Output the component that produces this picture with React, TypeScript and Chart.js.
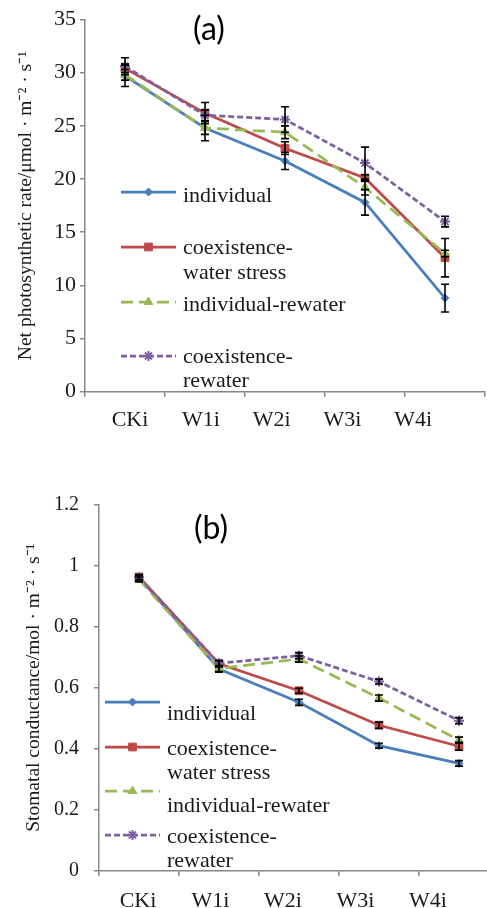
import React, { useEffect, useRef } from 'react';
import { Chart, registerables } from 'chart.js';
import { drawPoint } from 'chart.js/helpers';

Chart.register(...registerables);

// ---------- data ----------
const categories = ['CKi', 'W1i', 'W2i', 'W3i', 'W4i'];
const seriesNames = ['individual', 'coexistence-water stress', 'individual-rewater', 'coexistence-rewater'];
const legendLines = [['individual'], ['coexistence-', 'water stress'], ['individual-rewater'], ['coexistence-', 'rewater']];

// (a) Net photosynthetic rate
const pnIndividual = [29.7, 24.8, 21.7, 17.8, 8.8];
const pnCoexStress = [30.4, 26.2, 22.9, 20.1, 12.6];
const pnIndivRewater = [29.8, 24.8, 24.4, 19.2, 13.0];
const pnCoexRewater = [30.6, 26.0, 25.6, 21.5, 16.0];
const pnErrIndividual = [1.0, 1.2, 0.8, 1.2, 1.3];
const pnErrCoexStress = [0.4, 1.0, 0.6, 0.3, 1.8];
const pnErrIndivRewater = [0.5, 0.6, 0.6, 0.7, 0.3];
const pnErrCoexRewater = [0.8, 0.5, 1.2, 1.5, 0.5];

// (b) Stomatal conductance
const gsIndividual = [0.962, 0.661, 0.552, 0.41, 0.352];
const gsCoexStress = [0.963, 0.678, 0.59, 0.477, 0.408];
const gsIndivRewater = [0.955, 0.663, 0.694, 0.566, 0.428];
const gsCoexRewater = [0.962, 0.68, 0.705, 0.62, 0.492];
const gsErrIndividual = [0.008, 0.01, 0.01, 0.008, 0.009];
const gsErrCoexStress = [0.008, 0.01, 0.008, 0.01, 0.013];
const gsErrIndivRewater = [0.008, 0.01, 0.01, 0.01, 0.01];
const gsErrCoexRewater = [0.008, 0.01, 0.01, 0.008, 0.01];

// ---------- styles ----------
const SERIF = '"Liberation Serif", "Times New Roman", serif';
const TEXT = '#1a1a1a';
const AXIS = '#878787';
const styles = [
  { color: '#4A7EBB', pointStyle: 'rectRot', radius: 4, dash: [] as number[], pbw: 1 },
  { color: '#BE4B48', pointStyle: 'rect', radius: 5.5, dash: [] as number[], pbw: 1 },
  { color: '#98B954', pointStyle: 'triangle', radius: 5, dash: [12, 6], pbw: 1 },
  { color: '#7D60A0', pointStyle: 'star', radius: 5, dash: [6, 3], pbw: 2 },
];

// ---------- plugins ----------
const errorBarPlugin = {
  id: 'errorBars',
  afterDatasetsDraw(chart: any, _a: any, opts: any) {
    const ctx = chart.ctx;
    const ys = chart.scales.y;
    ctx.save();
    ctx.strokeStyle = opts.color;
    ctx.lineWidth = opts.width;
    ctx.setLineDash([]);
    chart.data.datasets.forEach((ds: any, i: number) => {
      const meta = chart.getDatasetMeta(i);
      (ds.errors || []).forEach((e: number, j: number) => {
        const pt = meta.data[j];
        if (!pt) return;
        const v = ds.data[j];
        const x = pt.x;
        const t = ys.getPixelForValue(v + e);
        const b = ys.getPixelForValue(v - e);
        ctx.beginPath();
        ctx.moveTo(x, t);
        ctx.lineTo(x, b);
        ctx.moveTo(x - opts.cap, t);
        ctx.lineTo(x + opts.cap, t);
        ctx.moveTo(x - opts.cap, b);
        ctx.lineTo(x + opts.cap, b);
        ctx.stroke();
      });
    });
    ctx.restore();
  },
};

const insideLegendPlugin = {
  id: 'insideLegend',
  afterDraw(chart: any, _a: any, opts: any) {
    const ctx = chart.ctx;
    ctx.save();
    chart.data.datasets.forEach((ds: any, i: number) => {
      const item = opts.items[i];
      const st = styles[i];
      ctx.strokeStyle = st.color;
      ctx.lineWidth = 2.75;
      ctx.setLineDash(st.dash);
      ctx.beginPath();
      ctx.moveTo(opts.x0, item.sampleY);
      ctx.lineTo(opts.x1, item.sampleY);
      ctx.stroke();
      ctx.setLineDash([]);
      ctx.fillStyle = st.color;
      ctx.lineWidth = st.pbw;
      drawPoint(ctx, { pointStyle: st.pointStyle, radius: st.radius, rotation: 0, borderWidth: st.pbw } as any,
        (opts.x0 + opts.x1) / 2, item.sampleY);
      ctx.fillStyle = TEXT;
      ctx.font = opts.font;
      ctx.textAlign = 'left';
      ctx.textBaseline = 'alphabetic';
      legendLines[i].forEach((line, k) => {
        ctx.fillText(line, opts.textX, item.baselines[k]);
      });
    });
    ctx.restore();
  },
};

const panelLabelPlugin = {
  id: 'panelLabel',
  afterDraw(chart: any, _a: any, opts: any) {
    const ctx = chart.ctx;
    ctx.save();
    ctx.fillStyle = '#000';
    ctx.font = opts.font;
    ctx.textAlign = 'center';
    ctx.textBaseline = 'middle';
    ctx.fillText(opts.text, opts.x, opts.y);
    ctx.restore();
  },
};

type PanelCfg = {
  series: number[][];
  errors: number[][];
  yMax: number;
  yStep: number;
  yTitle: string;
  yWidth: number;
  yTitlePad: number;
  yTickPad: number;
  yTickFont: number;
  padTop: number;
  padRight: number;
  labelAxisHeight: number;
  labelPad: number;
  labelMin: number;
  labelMax: number;
  panel: { text: string; x: number; y: number };
  legend: { x0: number; x1: number; textX: number; items: { sampleY: number; baselines: number[] }[] };
};

function makeConfig(c: PanelCfg): any {
  return {
    type: 'line',
    data: {
      labels: categories,
      datasets: c.series.map((vals, i) => ({
        label: seriesNames[i],
        data: vals,
        errors: c.errors[i],
        xAxisID: 'x',
        yAxisID: 'y',
        borderColor: styles[i].color,
        backgroundColor: styles[i].color,
        borderWidth: 2.75,
        borderDash: styles[i].dash,
        pointStyle: styles[i].pointStyle,
        pointRadius: styles[i].radius,
        pointBackgroundColor: styles[i].color,
        pointBorderColor: styles[i].color,
        pointBorderWidth: styles[i].pbw,
        tension: 0,
        fill: false,
        clip: false,
        order: 3 - i,
      })),
    },
    options: {
      responsive: false,
      animation: false,
      events: [],
      layout: { autoPadding: false, padding: { top: c.padTop, right: c.padRight, left: 0, bottom: 0 } },
      plugins: {
        legend: { display: false },
        tooltip: { enabled: false },
        errorBars: { color: '#000', width: 1.6, cap: 4 },
        insideLegend: { ...c.legend, font: `22px ${SERIF}` },
        panelLabel: { ...c.panel, font: '32px Lato, "Open Sans", sans-serif' },
      },
      scales: {
        x: {
          type: 'category',
          position: 'bottom',
          offset: true,
          weight: 0,
          grid: { offset: true, drawOnChartArea: false, tickLength: 5, color: AXIS, lineWidth: 1.5 },
          border: { color: AXIS, width: 1.5 },
          ticks: { display: false },
          afterFit: (s: any) => { s.height = 6; s.paddingLeft = 0; s.paddingRight = 0; },
        },
        xl: {
          type: 'linear',
          position: 'bottom',
          weight: 1,
          bounds: 'data',
          min: c.labelMin,
          max: c.labelMax,
          grid: { display: false, drawTicks: false },
          border: { display: false },
          afterBuildTicks: (s: any) => { s.ticks = categories.map((_, i) => ({ value: i })); },
          ticks: {
            autoSkip: false,
            maxRotation: 0,
            padding: c.labelPad,
            color: TEXT,
            font: { family: SERIF, size: 22 },
            callback: (v: any) => categories[Math.round(v)] ?? '',
          },
          afterFit: (s: any) => { s.height = c.labelAxisHeight; s.paddingLeft = 0; s.paddingRight = 0; },
        },
        y: {
          type: 'linear',
          min: 0,
          max: c.yMax,
          grid: { drawOnChartArea: false, tickLength: 5, color: AXIS, lineWidth: 1.5 },
          border: { color: AXIS, width: 1.5 },
          ticks: {
            stepSize: c.yStep,
            padding: c.yTickPad,
            color: TEXT,
            font: { family: SERIF, size: c.yTickFont },
            callback: (v: any) => String(Math.round(v * 10) / 10),
          },
          title: {
            display: true,
            text: c.yTitle,
            color: TEXT,
            font: { family: SERIF, size: 19.5 },
            padding: { top: c.yTitlePad, bottom: 0 },
          },
          afterFit: (s: any) => { s.width = c.yWidth; s.paddingTop = 0; s.paddingBottom = 0; },
        },
      },
    },
    plugins: [errorBarPlugin, insideLegendPlugin, panelLabelPlugin],
  };
}

const cfgA: PanelCfg = {
  series: [pnIndividual, pnCoexStress, pnIndivRewater, pnCoexRewater],
  errors: [pnErrIndividual, pnErrCoexStress, pnErrIndivRewater, pnErrCoexRewater],
  yMax: 35,
  yStep: 5,
  yTitle: 'Net photosynthetic rate/μmol · m⁻² · s⁻¹',
  yWidth: 85,
  yTitlePad: 14,
  yTickPad: 4,
  yTickFont: 22,
  padTop: 19.5,
  padRight: 2,
  labelAxisHeight: 56.3,
  labelPad: 9,
  labelMin: -0.636,
  labelMax: 5.014,
  panel: { text: '(a)', x: 209, y: 30 },
  legend: {
    x0: 121, x1: 176, textX: 183,
    items: [
      { sampleY: 192, baselines: [202] },
      { sampleY: 247, baselines: [254, 279] },
      { sampleY: 302, baselines: [311] },
      { sampleY: 356, baselines: [363, 387] },
    ],
  },
};

const cfgB: PanelCfg = {
  series: [gsIndividual, gsCoexStress, gsIndivRewater, gsCoexRewater],
  errors: [gsErrIndividual, gsErrCoexStress, gsErrIndivRewater, gsErrCoexRewater],
  yMax: 1.2,
  yStep: 0.2,
  yTitle: 'Stomatal conductance/mol · m⁻² · s⁻¹',
  yWidth: 99,
  yTitlePad: 22,
  yTickPad: 15,
  yTickFont: 20,
  padTop: 50.7,
  padRight: 1,
  labelAxisHeight: 31.3,
  labelPad: 11,
  labelMin: -0.538,
  labelMax: 4.979,
  panel: { text: '(b)', x: 211, y: 75 },
  legend: {
    x0: 105, x1: 160, textX: 167,
    items: [
      { sampleY: 248, baselines: [266] },
      { sampleY: 293, baselines: [301, 325] },
      { sampleY: 337, baselines: [358] },
      { sampleY: 381, baselines: [389, 413] },
    ],
  },
};

function Panel({ cfg, width, height, top }: { cfg: PanelCfg; width: number; height: number; top: number }) {
  const ref = useRef<HTMLCanvasElement | null>(null);
  useEffect(() => {
    if (!ref.current) return;
    const chart = new Chart(ref.current, makeConfig(cfg));
    return () => chart.destroy();
  }, [cfg]);
  return (
    <div style={{ position: 'absolute', left: 0, top, width, height }}>
      <canvas ref={ref} width={width} height={height} style={{ width, height, display: 'block' }} />
    </div>
  );
}

export default function App() {
  return (
    <div style={{ position: 'absolute', left: 0, top: 0, width: 487, height: 908, overflow: 'hidden', background: '#fff' }}>
      <Panel cfg={cfgA} width={487} height={454} top={0} />
      <Panel cfg={cfgB} width={500} height={454} top={454} />
    </div>
  );
}
